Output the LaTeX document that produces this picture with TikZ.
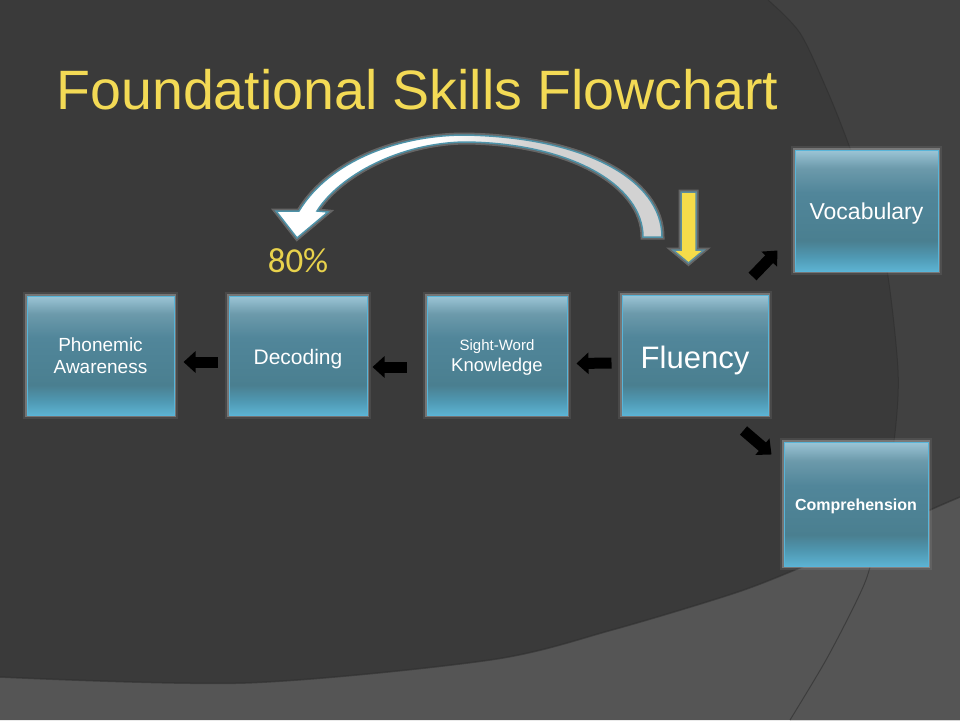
\documentclass[tikz,border=0pt]{standalone}
\usepackage{fontspec}
\setmainfont{Liberation Sans}
\newfontfamily\pctfont{Carlito}
\usetikzlibrary{arrows.meta}

\definecolor{bgdark}{HTML}{3A3A3A}
\definecolor{bgtop}{HTML}{414141}
\definecolor{bgbot}{HTML}{555555}
\definecolor{bgline}{HTML}{2E2E2E}
\definecolor{titleyellow}{HTML}{F3DA55}
\definecolor{pctyellow}{HTML}{E8D24C}
\definecolor{arrowyellow}{HTML}{F5DC4A}
\definecolor{boxA}{HTML}{9CC5D6}
\definecolor{boxAA}{HTML}{6C9AAB}
\definecolor{boxB}{HTML}{51869A}
\definecolor{boxC}{HTML}{4A7F90}
\definecolor{boxD}{HTML}{4F98B2}
\definecolor{boxE}{HTML}{5DB3D2}
\definecolor{boxedge}{HTML}{58B5D9}
\definecolor{glowgray}{HTML}{B8B8B8}
\definecolor{arcgray}{HTML}{D2D2D2}
\definecolor{arcedge}{HTML}{4E92A8}

\pgfdeclareverticalshading{boxshade}{100bp}{color(0bp)=(boxE); color(25bp)=(boxE);
  color(31bp)=(boxD); color(37.5bp)=(boxC); color(57.5bp)=(boxB);
  color(67.5bp)=(boxAA); color(75bp)=(boxA); color(100bp)=(boxA)}
\pgfdeclarehorizontalshading{arcshade}{100bp}{color(0bp)=(white); color(46bp)=(white);
  color(58bp)=(arcgray); color(100bp)=(arcgray)}

\tikzset{
  skillbox/.style={draw=boxedge, line width=1pt, shading=boxshade, text=white,
    inner sep=0pt, align=center,
    preaction={draw=glowgray, line width=8pt, opacity=.12},
    preaction={draw=glowgray, line width=4.5pt, opacity=.4}},
  blk/.style={black, line width=11pt, -{Triangle[length=12pt,width=21pt]}},
  arcarrow/.style={draw=arcedge, line width=1.5pt, shading=arcshade,
    preaction={draw=glowgray, line width=5pt, opacity=.35}},
  ylwarrow/.style={draw=arcedge!70!gray, line width=1.5pt, fill=arrowyellow,
    preaction={draw=glowgray, line width=5pt, opacity=.35}}
}

\begin{document}
\begin{tikzpicture}[x=1pt,y=-1pt]
\useasboundingbox (0,0) rectangle (960,720);
% background
\fill[bgdark] (0,0) rectangle (960,720);
\fill[bgtop] plot[smooth] coordinates {(768,0) (800,33) (827,90) (847,140) (870,205)
  (887,270) (898,370) (895,433) (884,500) (870,567) (857,600) (826,660) (790,720)}
  -- (960,720) -- (960,0) -- cycle;
\fill[bgbot] plot[smooth] coordinates {(0,677) (245,683) (490,660) (612,630) (735,593)
  (802,567) (870,538) (930,510) (960,497)} -- (960,720) -- (0,720) -- cycle;
\draw[bgline, line width=1.5pt, opacity=.6] plot[smooth] coordinates {(0,677) (245,683)
  (490,660) (612,630) (735,593) (802,567) (870,538) (930,510) (960,497)};
\draw[bgline, line width=1pt, opacity=.6] plot[smooth] coordinates {(768,0) (800,33)
  (827,90) (847,140) (870,205) (887,270) (898,370) (895,433) (884,500) (870,567)
  (857,600) (826,660) (790,720)};

% title and label
\node[anchor=base west, text=titleyellow, font=\fontsize{55.5}{60}\selectfont]
  (title) at (53,109) {Foundational Skills Flowchart};
\node[anchor=base, text=pctyellow, font=\pctfont\fontsize{35}{40}\selectfont]
  (pct) at (298,272) {80\%};

% boxes
\node[skillbox, minimum width=147pt, minimum height=119pt, text depth=0pt,
  font=\fontsize{19}{22}\selectfont] (phon) at (100.5,355.5) {Phonemic\\Awareness};
\node[skillbox, minimum width=138pt, minimum height=119pt, text height=17pt, text depth=0pt,
  font=\fontsize{21}{24}\selectfont] (deco) at (298,355.5) {Decoding};
\node[skillbox, minimum width=140pt, minimum height=119pt, text depth=0pt,
  font=\fontsize{18.5}{21}\selectfont] (sw) at (497,355.5)
  {{\fontsize{15}{21}\selectfont Sight-Word}\\Knowledge};
\node[skillbox, minimum width=146pt, minimum height=120pt, text height=26pt, text depth=0pt,
  font=\fontsize{31}{36}\selectfont] (flu) at (695,355) {Fluency};
\node[skillbox, minimum width=143pt, minimum height=121pt, text height=17pt, text depth=0pt,
  font=\fontsize{23}{27}\selectfont] (voc) at (866.5,210.5) {Vocabulary};
\node[skillbox, minimum width=144pt, minimum height=124pt, text height=12pt, text depth=0pt,
  font=\bfseries\fontsize{16}{19}\selectfont] (comp) at (856,504) {Comprehension};

% block arrows
\draw[blk] ([xshift=-11pt,yshift=-6.5pt]deco.west) -- ([xshift=9pt,yshift=-6.5pt]phon.east);
\draw[blk] ([xshift=-20pt,yshift=-11.5pt]sw.west) -- ([xshift=5pt,yshift=-11.5pt]deco.east);
\draw[blk] ([xshift=-10pt,yshift=-8pt]flu.west) -- ([xshift=9pt,yshift=-8pt]sw.east);
\draw[blk] ([xshift=-16pt,yshift=18pt]flu.north east) -- ([xshift=-17pt,yshift=21pt]voc.south west);
\draw[blk] ([xshift=-25pt,yshift=-15pt]flu.south east) -- ([xshift=-12pt,yshift=-13pt]comp.north west);

% curved arrow back to decoding
\path[arcarrow] (662,237) .. controls (662,180) and (585,137) .. (465,135)
  .. controls (400,135) and (330,160) .. (299,211)
  -- (276,211) -- (297,238) -- (328,212) -- (317,211)
  .. controls (340,175) and (400,143) .. (465,142)
  .. controls (570,143) and (643,185) .. (643,237) -- cycle;
% yellow arrow into fluency
\path[ylwarrow] (681,192) -- (696,192) -- (696,250) -- (704,250) -- (688.5,263)
  -- (673,250) -- (681,250) -- cycle;
\end{tikzpicture}
\end{document}
